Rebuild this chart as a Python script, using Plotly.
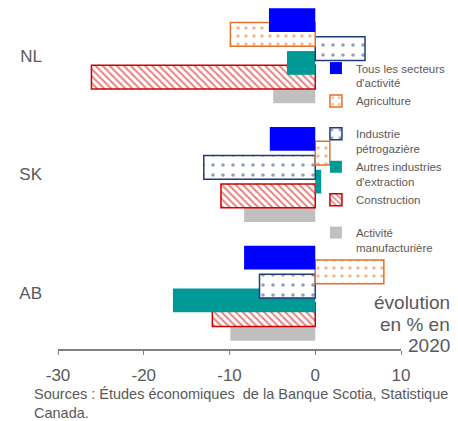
import plotly.graph_objects as go

provinces = ["NL", "SK", "AB"]
series_names = [
    "Tous les secteurs<br>d'activité",
    "Agriculture<br> ",
    "Industrie<br>pétrogazière",
    "Autres industries<br>d'extraction",
    "Construction<br> ",
    "Activité<br>manufacturière",
]
tous = [-5.4, -5.3, -8.3]
agriculture = [-9.9, 1.7, 8.0]
petro = [5.8, -13.0, -6.5]
autres = [-3.3, 0.7, -16.6]
construction = [-26.1, -11.0, -12.0]
manuf = [-4.9, -8.3, -9.9]
x_ticks = [-30, -20, -10, 0, 10]
x_tick_labels = ["-30", "-20", "-10", "0", "10"]

values = [tous, agriculture, petro, autres, construction, manuf]
styles = [
    dict(color="#0000FF", line=dict(width=0)),
    dict(color="white", line=dict(color="#E07328", width=1.5),
         pattern=dict(shape=".", fgcolor="#E07328", bgcolor="white", size=8, solidity=0.15)),
    dict(color="white", line=dict(color="#1F3B7A", width=1.5),
         pattern=dict(shape=".", fgcolor="#1F3B7A", bgcolor="white", size=10, solidity=0.1)),
    dict(color="#009A96", line=dict(width=0)),
    dict(color="white", line=dict(color="#D00000", width=1.5),
         pattern=dict(shape="\\", fgcolor="#D00000", bgcolor="white", size=5, solidity=0.4)),
    dict(color="#C0C0C0", line=dict(width=0)),
]
pitch = 0.12
width = 0.2

fig = go.Figure()
# draw in reverse so earlier series sit on top
for i in reversed(range(6)):
    center = (2.5 - i) * pitch
    fig.add_trace(go.Bar(
        y=provinces, x=values[i], orientation="h", name=series_names[i],
        marker=styles[i], width=width, offset=center - width / 2,
    ))

fig.update_layout(
    width=458, height=421,
    margin=dict(l=58, r=57, t=0, b=72),
    barmode="overlay",
    plot_bgcolor="white", paper_bgcolor="white",
    font=dict(family="Liberation Sans, Arial, sans-serif", color="#595959"),
    showlegend=True,
    legend=dict(
        traceorder="reversed", valign="top",
        x=0.752, xanchor="left", y=0.845, yanchor="top",
        bgcolor="rgba(0,0,0,0)", font=dict(size=11.5, color="#595959"),
        itemclick=False,
    ),
    xaxis=dict(
        range=[-30, 10], tickvals=x_ticks, ticktext=x_tick_labels,
        showgrid=False, zeroline=False,
        showline=True, linecolor="#808080", linewidth=1.5,
        ticks="outside", ticklen=4, tickcolor="#808080",
        ticklabelstandoff=6, tickfont=dict(size=17, color="#595959"),
    ),
    yaxis=dict(
        type="category", categoryarray=["AB", "SK", "NL"],
        range=[-0.47, 2.47], showgrid=False, zeroline=False, showline=False,
        ticks="", ticklabelstandoff=15, tickfont=dict(size=17, color="#595959"),
    ),
    yaxis2=dict(
        overlaying="y", anchor="free", position=0.75, side="left",
        range=[-0.47, 2.47], tickvals=[0.5, 1.5], showticklabels=False,
        ticks="inside", ticklen=4, tickcolor="#808080",
        showline=True, linecolor="#808080", linewidth=1.5, showgrid=False, zeroline=False,
    ),
)

fig.add_annotation(
    text="Sources : Études économiques  de la Banque Scotia, Statistique<br>Canada.",
    xref="paper", yref="paper", x=-0.076, y=-0.1, xanchor="left", yanchor="top",
    align="left", showarrow=False, font=dict(size=14.5, color="#595959"),
)
for txt, yy in [("évolution", 302), ("en % en", 324), ("2020", 345)]:
    fig.add_annotation(
        text=txt, xref="paper", yref="paper", x=(452 - 58) / 343,
        y=(349 - yy) / 349, xanchor="right", yanchor="middle",
        showarrow=False, font=dict(size=19, color="#595959"),
    )

fig.write_html("out.html")
